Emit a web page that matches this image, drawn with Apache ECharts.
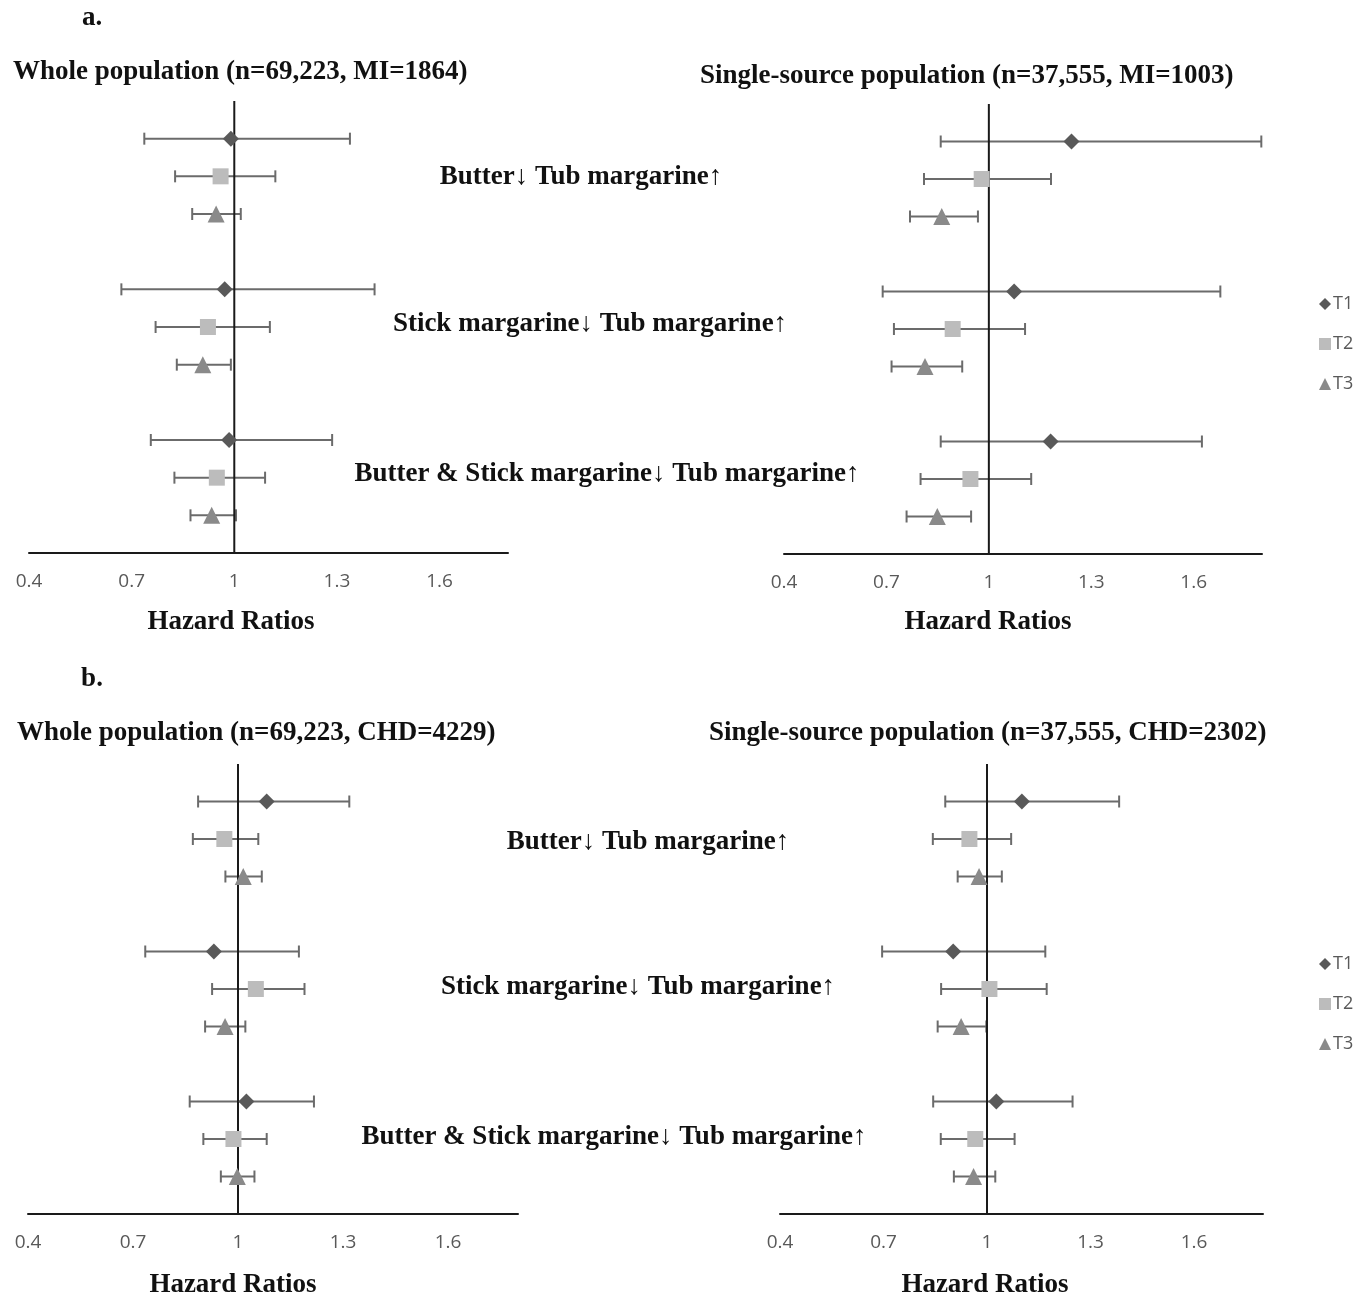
<!DOCTYPE html>
<html>
<head>
<meta charset="utf-8">
<script src="https://cdn.jsdelivr.net/npm/echarts@6/dist/echarts.min.js"></script>
<style>
  html, body { margin: 0; padding: 0; background: #fff; }
  #main { width: 1371px; height: 1298px; }
</style>
</head>
<body>
<div id="main"></div>
<script>
// rows go T1, T2, T3 for each comparison, in the order of `comparisons`
const comparisons = ['Butter↓ Tub margarine↑', 'Stick margarine↓ Tub margarine↑', 'Butter & Stick margarine↓ Tub margarine↑'];
const tiers = ['T1', 'T2', 'T3'];
const tickValues = [0.4, 0.7, 1, 1.3, 1.6];

// a. MI, whole population
const aWholeHR = [0.99, 0.96, 0.947, 0.972, 0.923, 0.908, 0.985, 0.949, 0.934];
const aWholeLo = [0.737, 0.827, 0.877, 0.67, 0.77, 0.832, 0.756, 0.825, 0.872];
const aWholeHi = [1.338, 1.12, 1.019, 1.41, 1.104, 0.99, 1.286, 1.09, 1.005];

// a. MI, single-source population
const aSingleHR = [1.242, 0.979, 0.862, 1.074, 0.894, 0.813, 1.181, 0.946, 0.849];
const aSingleLo = [0.859, 0.81, 0.769, 0.689, 0.722, 0.715, 0.859, 0.8, 0.759];
const aSingleHi = [1.798, 1.182, 0.968, 1.678, 1.106, 0.922, 1.624, 1.124, 0.948];

// b. CHD, whole population
const bWholeHR = [1.082, 0.961, 1.015, 0.931, 1.051, 0.963, 1.024, 0.987, 0.998];
const bWholeLo = [0.886, 0.871, 0.964, 0.735, 0.926, 0.906, 0.862, 0.901, 0.951];
const bWholeHi = [1.318, 1.058, 1.068, 1.174, 1.19, 1.021, 1.217, 1.082, 1.047];

// b. CHD, single-source population
const bSingleHR = [1.101, 0.949, 0.977, 0.902, 1.007, 0.925, 1.027, 0.966, 0.961];
const bSingleLo = [0.879, 0.843, 0.915, 0.696, 0.867, 0.857, 0.844, 0.866, 0.904];
const bSingleHi = [1.383, 1.07, 1.043, 1.169, 1.173, 0.998, 1.248, 1.08, 1.024];

const panels = [
    { hr: aWholeHR, lo: aWholeLo, hi: aWholeHi, grid: { left: 29, top: 101, width: 479, height: 452 } },
    { hr: aSingleHR, lo: aSingleLo, hi: aSingleHi, grid: { left: 784, top: 104, width: 478, height: 450 } },
    { hr: bWholeHR, lo: bWholeLo, hi: bWholeHi, grid: { left: 28, top: 764, width: 490, height: 450 } },
    { hr: bSingleHR, lo: bSingleLo, hi: bSingleHi, grid: { left: 780, top: 764, width: 483, height: 450 } }
];

const tierColor = { T1: '#595959', T2: '#bcbcbc', T3: '#8a8a8a' };
const tierSymbol = { T1: 'diamond', T2: 'rect', T3: 'triangle' };
const tierSize = { T1: 16, T2: 16, T3: 17 };
const serif = '"Liberation Serif", "Times New Roman", serif';
const sans = '"Open Sans", "DejaVu Sans", sans-serif';

function rowOf(i) {
    // 3 rows per comparison, one blank row between groups
    return Math.floor(i / 3) * 4 + (i % 3) + 1;
}

function errorBar(params, api) {
    let y = api.value(2);
    let p0 = api.coord([api.value(0), y]);
    let p1 = api.coord([api.value(1), y]);
    let st = { stroke: '#6b6b6b', lineWidth: 2 };
    let cap = 6;
    return {
        type: 'group',
        children: [
            { type: 'line', shape: { x1: p0[0], y1: p0[1], x2: p1[0], y2: p1[1] }, style: st },
            { type: 'line', shape: { x1: p0[0], y1: p0[1] - cap, x2: p0[0], y2: p0[1] + cap }, style: st },
            { type: 'line', shape: { x1: p1[0], y1: p1[1] - cap, x2: p1[0], y2: p1[1] + cap }, style: st }
        ]
    };
}

let grids = [], xAxes = [], yAxes = [], series = [];

panels.forEach((p, k) => {
    grids.push(p.grid);
    xAxes.push({
        type: 'value', gridIndex: k, min: 0.4, max: 1.8, position: 'bottom',
        axisLine: { show: true, onZero: false, lineStyle: { color: '#1a1a1a', width: 2 } },
        axisTick: { show: false },
        splitLine: { show: false },
        axisLabel: {
            customValues: tickValues,
            margin: 19, color: '#595959', fontFamily: sans, fontSize: 19,
            formatter: v => String(+v.toFixed(1))
        }
    });
    yAxes.push({ type: 'value', gridIndex: k, min: 0, max: 12, inverse: true, show: false });

    tiers.forEach((t, ti) => {
        let bars = [];
        let pts = [];
        p.hr.forEach((v, i) => {
            if (i % 3 !== ti) return;
            bars.push([p.lo[i], p.hi[i], rowOf(i)]);
            pts.push([v, rowOf(i)]);
        });
        series.push({
            type: 'custom', name: t + ' CI', xAxisIndex: k, yAxisIndex: k,
            renderItem: errorBar, encode: { x: [0, 1], y: 2 }, data: bars, z: 2, silent: true
        });
        series.push({
            type: 'scatter', name: t, xAxisIndex: k, yAxisIndex: k,
            symbol: tierSymbol[t], symbolSize: tierSize[t],
            itemStyle: { color: tierColor[t], opacity: 1 },
            data: pts, z: 5
        });
    });

    // reference line at HR = 1
    series.push({
        type: 'line', xAxisIndex: k, yAxisIndex: k, data: [[1, 0], [1, 12]],
        showSymbol: false, silent: true, z: 3,
        lineStyle: { color: '#1a1a1a', width: 2 }
    });
});

function txt(text, x, y, align, size) {
    return {
        type: 'text', x: x, y: y, silent: true,
        style: {
            text: text, fill: '#111', align: align || 'left', verticalAlign: 'middle',
            textAlign: align || 'left', textVerticalAlign: 'middle',
            font: 'bold ' + (size || 27) + 'px ' + serif
        }
    };
}

const graphics = [
    txt('a.', 92, 18, 'center'),
    txt('Whole population (n=69,223, MI=1864)', 13, 72),
    txt('Single-source population (n=37,555, MI=1003)', 700, 76),
    txt(comparisons[0], 581, 177, 'center'),
    txt(comparisons[1], 590, 324, 'center'),
    txt(comparisons[2], 607, 474, 'center'),
    txt('Hazard Ratios', 231, 622, 'center'),
    txt('Hazard Ratios', 988, 622, 'center'),
    txt('b.', 92, 679, 'center'),
    txt('Whole population (n=69,223, CHD=4229)', 17, 733),
    txt('Single-source population (n=37,555, CHD=2302)', 709, 733),
    txt(comparisons[0], 648, 842, 'center'),
    txt(comparisons[1], 638, 987, 'center'),
    txt(comparisons[2], 614, 1137, 'center'),
    txt('Hazard Ratios', 233, 1285, 'center'),
    txt('Hazard Ratios', 985, 1285, 'center')
];

const legendItem = tiers.map(t => ({ name: t, icon: tierSymbol[t] }));
const legendBase = {
    orient: 'vertical', left: 1314, itemWidth: 12, itemHeight: 12, itemGap: 22,
    selectedMode: false,
    textStyle: { color: '#595959', fontFamily: sans, fontSize: 18, padding: [0, 0, 0, -3] },
    data: legendItem
};

const option = {
    animation: false,
    backgroundColor: '#fff',
    grid: grids,
    xAxis: xAxes,
    yAxis: yAxes,
    legend: [
        Object.assign({}, legendBase, { top: 290 }),
        Object.assign({}, legendBase, { top: 950 })
    ],
    graphic: graphics,
    series: series
};

let plot = echarts.init(document.querySelector('#main'));
plot.setOption(option);
</script>
</body>
</html>
